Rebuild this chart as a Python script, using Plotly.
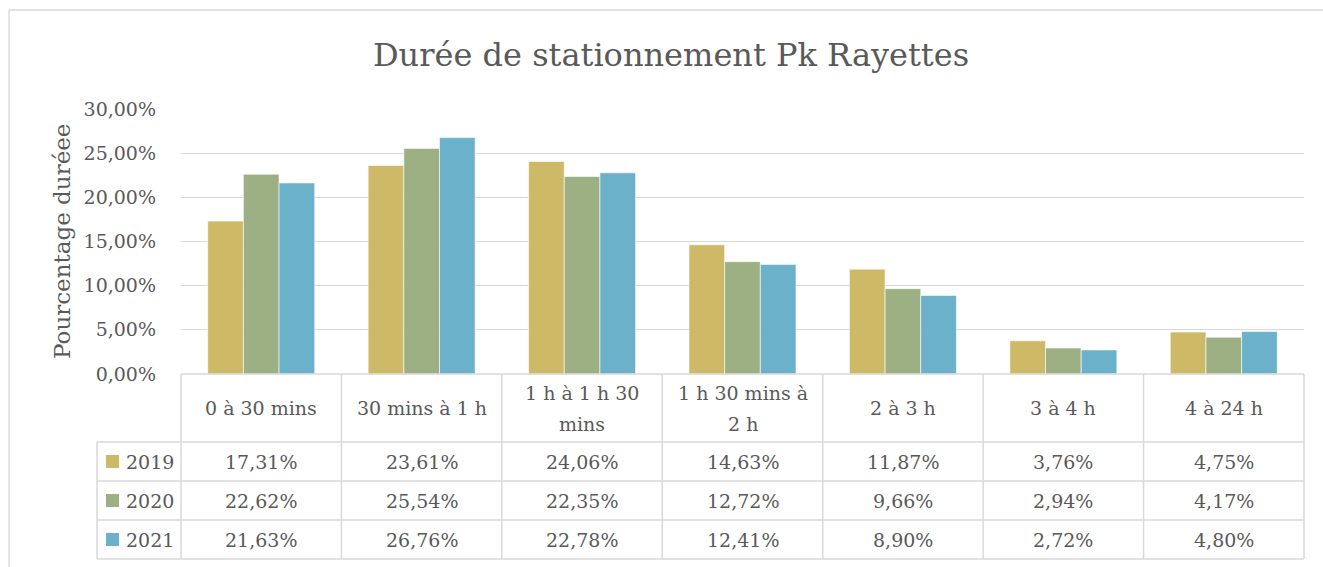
import plotly.graph_objects as go

categories = ["0 à 30 mins", "30 mins à 1 h", "1 h à 1 h 30 mins", "1 h 30 mins à 2 h",
              "2 à 3 h", "3 à 4 h", "4 à 24 h"]
header_labels = ["0 à 30 mins", "30 mins à 1 h", "1 h à 1 h 30\nmins", "1 h 30 mins à\n2 h",
                 "2 à 3 h", "3 à 4 h", "4 à 24 h"]
series_names = ["2019", "2020", "2021"]
values_2019 = [0.1731, 0.2361, 0.2406, 0.1463, 0.1187, 0.0376, 0.0475]
values_2020 = [0.2262, 0.2554, 0.2235, 0.1272, 0.0966, 0.0294, 0.0417]
values_2021 = [0.2163, 0.2676, 0.2278, 0.1241, 0.0890, 0.0272, 0.0480]
series_values = [values_2019, values_2020, values_2021]
colors = ["#CEB966", "#9CB084", "#6BB1C9"]
y_ticks = [0, 0.05, 0.10, 0.15, 0.20, 0.25, 0.30]

FONT = "DejaVu Serif, Liberation Serif, serif"
TXT = "#595959"
GRID = "#D9D9D9"

W, H = 1323, 567
L, R, T, B = 181, 1304, 109, 374  # plot area in pixels
pw, ph = R - L, B - T


def py(p):
    return (B - p) / ph


def px(p):
    return (p - L) / pw


fig = go.Figure()
for name, vals, col in zip(series_names, series_values, colors):
    fig.add_trace(go.Bar(x=categories, y=vals, name=name, marker_color=col,
                         marker_line=dict(color="white", width=0.6), showlegend=False))

shapes = []
annotations = []

# outer frame (top and left)
shapes.append(dict(type="line", xref="paper", yref="paper", x0=px(9), x1=px(W + 5), y0=py(10), y1=py(10),
                   line=dict(color=GRID, width=1.3)))
shapes.append(dict(type="line", xref="paper", yref="paper", x0=px(9), x1=px(9), y0=py(10), y1=py(H + 5),
                   line=dict(color=GRID, width=1.3)))

# table
row_bounds = [374, 442, 481, 520, 559]
tl = 97
shapes.append(dict(type="line", xref="paper", yref="paper", x0=0, x1=1, y0=py(374), y1=py(374),
                   line=dict(color=GRID, width=1.5)))
for rb in row_bounds[1:]:
    shapes.append(dict(type="line", xref="paper", yref="paper", x0=px(tl), x1=1, y0=py(rb), y1=py(rb),
                       line=dict(color=GRID, width=1.5)))
shapes.append(dict(type="line", xref="paper", yref="paper", x0=px(tl), x1=px(tl), y0=py(442), y1=py(559),
                   line=dict(color=GRID, width=1.5)))
for k in range(len(categories) + 1):
    shapes.append(dict(type="line", xref="paper", yref="paper", x0=k / len(categories), x1=k / len(categories),
                       y0=py(374), y1=py(559), line=dict(color=GRID, width=1.5)))

TS = 19
# header labels
for i, lab in enumerate(header_labels):
    lines = lab.split("\n")
    if len(lines) == 1:
        ys = [408]
    else:
        ys = [393, 424]
    for ln, yy in zip(lines, ys):
        annotations.append(dict(x=categories[i], xref="x", y=py(yy), yref="paper", text=ln, showarrow=False,
                                font=dict(family=FONT, size=TS, color=TXT), xanchor="center", yanchor="middle"))

# rows
for r, (name, vals, col) in enumerate(zip(series_names, series_values, colors)):
    yc = (row_bounds[r + 1] + row_bounds[r + 2]) / 2
    shapes.append(dict(type="rect", xref="paper", yref="paper", x0=px(106), x1=px(119),
                       y0=py(yc - 6.5), y1=py(yc + 6.5), fillcolor=col, line=dict(width=0)))
    annotations.append(dict(x=px(124), xref="paper", y=py(yc), yref="paper", text=name, showarrow=False,
                            font=dict(family=FONT, size=TS, color=TXT), xanchor="left", yanchor="middle"))
    for i, v in enumerate(vals):
        txt = f"{v * 100:.2f}%".replace(".", ",")
        annotations.append(dict(x=categories[i], xref="x", y=py(yc), yref="paper", text=txt, showarrow=False,
                                font=dict(family=FONT, size=TS, color=TXT), xanchor="center", yanchor="middle"))

# y axis title
annotations.append(dict(x=px(62), xref="paper", y=py(241), yref="paper", text="Pourcentage duréee",
                        textangle=-90, showarrow=False, font=dict(family=FONT, size=23, color=TXT),
                        xanchor="center", yanchor="middle"))

fig.update_layout(
    width=W, height=H,
    margin=dict(l=L, r=W - R, t=T, b=H - B, pad=0),
    paper_bgcolor="white", plot_bgcolor="white",
    separators=", ",
    title=dict(text="Durée de stationnement Pk Rayettes", x=671 / W, xref="container", xanchor="center",
               y=1 - 55 / H, yref="container", yanchor="middle",
               font=dict(family=FONT, size=32, color=TXT)),
    barmode="group", bargap=0.333, bargroupgap=0,
    xaxis=dict(showticklabels=False, showgrid=False, zeroline=False, showline=False, ticks=""),
    yaxis=dict(range=[0, 0.30], tickvals=y_ticks, tickformat=".2%", showgrid=True, gridcolor=GRID, gridwidth=1.3,
               zeroline=False, showline=False, ticks="", ticklabelstandoff=24,
               tickfont=dict(family=FONT, size=TS, color=TXT)),
    shapes=shapes, annotations=annotations,
    font=dict(family=FONT, color=TXT),
)

fig.write_html("out.html", post_script="document.body.style.margin='0px';",
               config={"displayModeBar": False})
